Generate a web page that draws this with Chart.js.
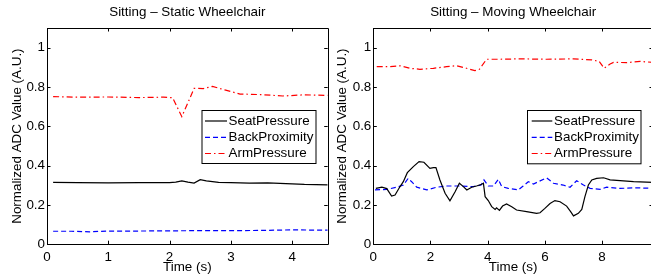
<!DOCTYPE html>
<html><head><meta charset="utf-8">
<script src="https://cdn.jsdelivr.net/npm/chart.js@4.4.0/dist/chart.umd.min.js"></script>
<style>
html,body{margin:0;padding:0;background:#fff;overflow:hidden;width:651px;height:275px;position:relative;}
#c1{position:absolute;left:0;top:0;width:330px;height:275px;}
#c2{position:absolute;left:320px;top:0;width:335px;height:275px;}
</style></head><body>
<canvas id="c1" width="330" height="275"></canvas>
<canvas id="c2" width="335" height="275"></canvas>
<script>
// ---- texts ----
const panelTitles = ['Sitting \u2013 Static Wheelchair', 'Sitting \u2013 Moving Wheelchair'];
const seriesNames = ['SeatPressure', 'BackProximity', 'ArmPressure'];
const yAxisTitle = 'Normalized ADC Value (A.U.)';
const xAxisTitle = 'Time (s)';
// ---- tick labels ----
const yTicks = [0, 0.2, 0.4, 0.6, 0.8, 1];
const xTicksStatic = [0, 1, 2, 3, 4];
const xTicksMoving = [0, 2, 4, 6, 8];
const yRange = [0, 1.1];
const xRangeStatic = [0, 4.58];
const xRangeMoving = [0, 9.78];

// ---- static wheelchair ----
const staticSeatT = [0.1, 0.5, 1.0, 1.5, 2.0, 2.1, 2.2, 2.3, 2.4, 2.5, 2.6, 2.8, 3.0, 3.3, 3.6, 3.9, 4.2, 4.58];
const staticSeatV = [0.315, 0.313, 0.312, 0.313, 0.313, 0.316, 0.322, 0.316, 0.311, 0.328, 0.322, 0.315, 0.313, 0.311, 0.312, 0.308, 0.304, 0.302];
const staticBackT = [0.1, 0.4, 0.7, 1.0, 1.5, 2.0, 2.5, 3.0, 3.5, 4.0, 4.3, 4.58];
const staticBackV = [0.066, 0.066, 0.063, 0.067, 0.067, 0.068, 0.069, 0.069, 0.070, 0.073, 0.072, 0.072];
const staticArmT = [0.1, 0.5, 1.0, 1.5, 1.9, 2.05, 2.2, 2.3, 2.4, 2.55, 2.7, 2.9, 3.15, 3.5, 3.85, 4.2, 4.58];
const staticArmV = [0.751, 0.748, 0.749, 0.746, 0.748, 0.745, 0.649, 0.72, 0.793, 0.792, 0.803, 0.785, 0.764, 0.761, 0.754, 0.760, 0.757];

// ---- moving wheelchair ----
const movingSeatT = [0.09,0.3,0.47,0.64,0.76,0.93,1.05,1.19,1.4,1.6,1.77,1.98,2.1,2.19,2.33,2.51,2.68,2.86,3.01,3.15,3.27,3.44,3.61,3.79,3.85,3.91,4.02,4.14,4.26,4.31,4.41,4.52,4.66,4.84,5.01,5.36,5.71,5.83,6.0,6.18,6.35,6.53,6.76,6.9,7.0,7.17,7.29,7.4,7.52,7.64,7.81,8.05,8.28,8.63,9.1,9.78];
const movingSeatV = [0.284,0.29,0.283,0.245,0.25,0.292,0.318,0.364,0.395,0.42,0.417,0.386,0.39,0.39,0.327,0.259,0.221,0.267,0.31,0.293,0.276,0.29,0.296,0.305,0.31,0.242,0.222,0.191,0.177,0.185,0.172,0.194,0.205,0.191,0.174,0.166,0.157,0.16,0.182,0.207,0.222,0.216,0.194,0.166,0.144,0.157,0.177,0.242,0.301,0.327,0.335,0.338,0.327,0.323,0.318,0.315];
const movingBackT = [0.06,0.47,0.82,1.05,1.22,1.34,1.52,1.87,2.22,2.57,3.03,3.5,3.77,3.87,4.02,4.2,4.37,4.49,4.72,5.07,5.24,5.42,5.6,5.77,6.06,6.3,6.64,6.88,7.11,7.35,7.58,7.93,8.16,8.63,9.21,9.78];
const movingBackV = [0.276,0.279,0.29,0.301,0.335,0.318,0.29,0.276,0.29,0.296,0.296,0.293,0.301,0.327,0.296,0.296,0.33,0.293,0.284,0.276,0.296,0.318,0.306,0.318,0.338,0.31,0.301,0.29,0.323,0.301,0.284,0.279,0.29,0.284,0.287,0.284];
const movingArmT = [0.12,0.58,0.93,1.28,1.63,2.1,2.56,2.91,3.26,3.55,3.71,3.96,4.43,5.13,6.06,7.0,7.64,7.9,8.07,8.28,8.4,8.86,9.33,9.78];
const movingArmV = [0.903,0.903,0.908,0.895,0.89,0.895,0.903,0.908,0.895,0.883,0.89,0.941,0.941,0.943,0.941,0.943,0.938,0.93,0.895,0.917,0.925,0.924,0.93,0.925];

const FONT = '"Liberation Sans", Arial, Helvetica, sans-serif';
const FS = 13.4;
Chart.defaults.font.family = FONT;
Chart.defaults.font.size = FS;
Chart.defaults.color = '#000';

const styles = [
  {borderColor: '#000000', borderDash: []},
  {borderColor: '#0000ff', borderDash: [5, 3]},
  {borderColor: '#ff0000', borderDash: [6, 3, 1.5, 3]}
];

function pts(t, v) { return t.map((x, i) => ({x: x, y: v[i]})); }

const framePlugin = {
  id: 'frame',
  afterDraw(chart, args, opts) {
    const ctx = chart.ctx, a = chart.chartArea;
    const xs = chart.scales.x, ys = chart.scales.y;
    const L = 3.5;
    ctx.save();
    ctx.strokeStyle = '#000';
    ctx.lineWidth = 1;
    ctx.setLineDash([]);
    ctx.beginPath();
    ctx.rect(Math.round(a.left) + 0.5, Math.round(a.top) + 0.5, Math.round(a.right) - Math.round(a.left), Math.round(a.bottom) - Math.round(a.top));
    ctx.stroke();
    ctx.beginPath();
    xs.ticks.forEach(t => {
      const px = Math.round(xs.getPixelForValue(t.value)) + 0.5;
      ctx.moveTo(px, a.bottom); ctx.lineTo(px, a.bottom - L);
      ctx.moveTo(px, a.top); ctx.lineTo(px, a.top + L);
    });
    ys.ticks.forEach(t => {
      const py = Math.round(ys.getPixelForValue(t.value)) + 0.5;
      ctx.moveTo(a.left, py); ctx.lineTo(a.left + L, py);
      ctx.moveTo(a.right, py); ctx.lineTo(a.right - L, py);
    });
    ctx.stroke();
    // title centred over the axes
    ctx.fillStyle = '#000';
    ctx.font = FS + 'px ' + FONT;
    ctx.textAlign = 'center';
    ctx.textBaseline = 'middle';
    ctx.fillText(opts.text, (a.left + a.right) / 2, 12.8);
    ctx.restore();
  }
};

const boxLegend = {
  id: 'boxLegend',
  afterDraw(chart, args, o) {
    const ctx = chart.ctx;
    ctx.save();
    ctx.fillStyle = '#fff';
    ctx.fillRect(o.x, o.y, o.w, o.h);
    ctx.strokeStyle = '#000';
    ctx.lineWidth = 1;
    ctx.setLineDash([]);
    ctx.strokeRect(o.x + 0.5, o.y + 0.5, o.w, o.h);
    chart.data.datasets.forEach((ds, i) => {
      const yy = o.rows[i];
      ctx.strokeStyle = ds.borderColor;
      ctx.lineWidth = ds.borderWidth;
      ctx.setLineDash(ds.borderDash || []);
      ctx.beginPath();
      ctx.moveTo(o.l0, yy); ctx.lineTo(o.l1, yy);
      ctx.stroke();
      ctx.setLineDash([]);
      ctx.fillStyle = '#000';
      ctx.font = FS + 'px ' + FONT;
      ctx.textAlign = 'left';
      ctx.textBaseline = 'middle';
      ctx.fillText(ds.label, o.tx, yy);
    });
    ctx.restore();
  }
};

function makeChart(id, title, series, xTicks, xRange, yWidth, yTitlePad, legendOpts, padRight) {
  const datasets = series.map((s, i) => ({
    label: seriesNames[i],
    data: pts(s[0], s[1]),
    borderColor: styles[i].borderColor,
    borderDash: styles[i].borderDash,
    borderWidth: 1.2,
    pointRadius: 0,
    tension: 0,
    fill: false
  }));
  return new Chart(document.getElementById(id), {
    type: 'line',
    data: {datasets},
    plugins: [framePlugin, boxLegend],
    options: {
      responsive: false,
      animation: false,
      devicePixelRatio: 1,
      layout: {padding: {left: 0, top: 28, right: padRight, bottom: 0}},
      plugins: {
        legend: {display: false},
        tooltip: {enabled: false},
        frame: {text: title},
        boxLegend: legendOpts
      },
      scales: {
        x: {
          type: 'linear', min: xRange[0], max: xRange[1],
          grid: {display: false, drawTicks: false}, border: {display: false},
          afterBuildTicks: s => { s.ticks = xTicks.map(v => ({value: v})); },
          afterFit: s => { s.height = 30.8; },
          ticks: {padding: 5, maxRotation: 0, autoSkip: false, color: '#000', font: {size: FS}, callback: v => String(v)},
          title: {display: true, text: xAxisTitle, color: '#000', font: {size: FS, lineHeight: 1}, padding: {top: 0, bottom: 1.3}}
        },
        y: {
          type: 'linear', min: yRange[0], max: yRange[1],
          grid: {display: false, drawTicks: false}, border: {display: false},
          afterBuildTicks: s => { s.ticks = yTicks.map(v => ({value: v})); },
          afterFit: s => { s.width = yWidth; },
          ticks: {padding: 2, autoSkip: false, color: '#000', font: {size: FS}, callback: v => String(v)},
          title: {display: true, text: yAxisTitle, color: '#000', font: {size: FS, lineHeight: 1.2}, padding: {top: yTitlePad, bottom: 0}}
        }
      }
    }
  });
}

makeChart('c1', panelTitles[0],
  [[staticSeatT, staticSeatV], [staticBackT, staticBackV], [staticArmT, staticArmV]],
  xTicksStatic, xRangeStatic, 47, 9.5,
  {x: 201.5, y: 110, w: 114, h: 53, l0: 205, l1: 227, tx: 228.5, rows: [121, 137.3, 153.5]},
  2.3);

makeChart('c2', panelTitles[1],
  [[movingSeatT, movingSeatV], [movingBackT, movingBackV], [movingArmT, movingArmV]],
  xTicksMoving, xRangeMoving, 53.3, 14.0,
  {x: 207, y: 110, w: 113.5, h: 53.3, l0: 211.7, l1: 232.3, tx: 234, rows: [121, 137.3, 153.5]},
  2);
</script>
</body></html>
